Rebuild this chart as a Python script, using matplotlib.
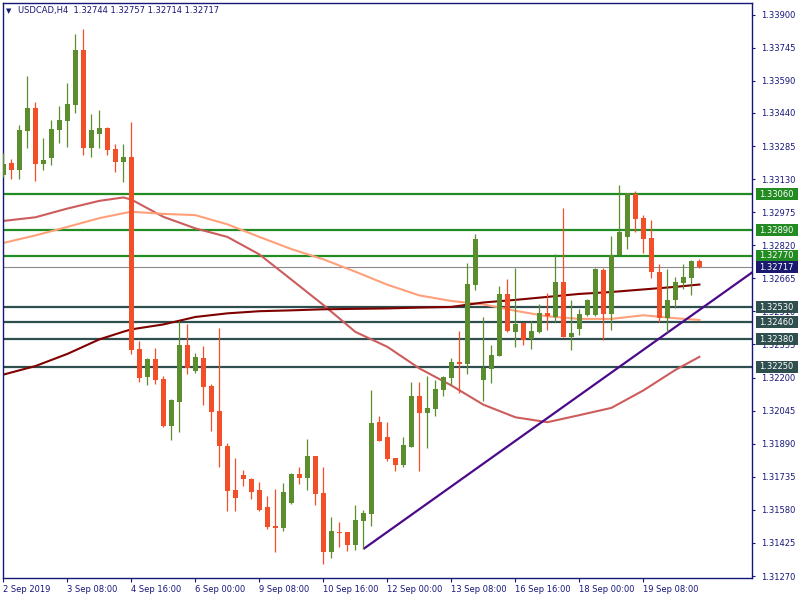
import matplotlib
matplotlib.use('Agg')
import matplotlib.pyplot as plt
import matplotlib.transforms as mtransforms
from matplotlib.patches import Rectangle

# ---------------- data (USDCAD H4) ----------------
opens = [1.33150, 1.33206, 1.33173, 1.33356, 1.33464, 1.33201, 1.33230, 1.33361, 1.33403, 1.33478,
         1.33736, 1.33276, 1.33342, 1.33370, 1.33272, 1.33211, 1.33234, 1.32334, 1.32203, 1.32287,
         1.32194, 1.31973, 1.32086, 1.32353, 1.32231, 1.32292, 1.32161, 1.32044, 1.31879, 1.31673,
         1.31744, 1.31725, 1.31673, 1.31594, 1.31504, 1.31495, 1.31612, 1.31748, 1.31729, 1.31833,
         1.31659, 1.31383, 1.31476, 1.31476, 1.31415, 1.31528, 1.31561, 1.31992, 1.31922, 1.31823,
         1.31790, 1.31875, 1.32114, 1.32034, 1.32053, 1.32142, 1.32198, 1.32273, 1.32264, 1.32636,
         1.32189, 1.32240, 1.32301, 1.32592, 1.32414, 1.32456, 1.32381, 1.32414, 1.32503, 1.32484,
         1.32648, 1.32390, 1.32428, 1.32494, 1.32494, 1.32705, 1.32498, 1.32775, 1.32859, 1.33061,
         1.32948, 1.32855, 1.32695, 1.32480, 1.32564, 1.32644, 1.32667, 1.32744]
highs = [1.33253, 1.33225, 1.33384, 1.33614, 1.33492, 1.33323, 1.33408, 1.33473, 1.33581, 1.33811,
         1.33834, 1.33436, 1.33455, 1.33375, 1.33295, 1.33295, 1.33398, 1.32372, 1.32292, 1.32339,
         1.32208, 1.32100, 1.32465, 1.32451, 1.32315, 1.32348, 1.32170, 1.32433, 1.31894, 1.31823,
         1.31767, 1.31729, 1.31711, 1.31645, 1.31678, 1.31706, 1.31753, 1.31781, 1.31912, 1.31833,
         1.31781, 1.31547, 1.31523, 1.31476, 1.31603, 1.31579, 1.32142, 1.32020, 1.31992, 1.31823,
         1.31922, 1.32180, 1.32180, 1.32208, 1.32189, 1.32208, 1.32292, 1.32419, 1.32737, 1.32873,
         1.32484, 1.32353, 1.32630, 1.32662, 1.32714, 1.32456, 1.32465, 1.32545, 1.32597, 1.32780,
         1.32995, 1.32564, 1.32522, 1.32566, 1.32714, 1.32714, 1.32864, 1.33103, 1.33066, 1.33075,
         1.32962, 1.32939, 1.32733, 1.32709, 1.32672, 1.32733, 1.32751, 1.32757]
lows = [1.33141, 1.33131, 1.33131, 1.33276, 1.33122, 1.33173, 1.33197, 1.33300, 1.33281, 1.33441,
        1.33244, 1.33234, 1.33276, 1.33244, 1.33164, 1.33117, 1.32311, 1.32180, 1.32165, 1.32170,
        1.31969, 1.31908, 1.31945, 1.32217, 1.32222, 1.32072, 1.31950, 1.31781, 1.31575, 1.31575,
        1.31692, 1.31631, 1.31575, 1.31490, 1.31383, 1.31481, 1.31608, 1.31701, 1.31673, 1.31603,
        1.31326, 1.31354, 1.31406, 1.31387, 1.31392, 1.31397, 1.31504, 1.31903, 1.31809, 1.31762,
        1.31781, 1.31875, 1.31762, 1.31870, 1.32020, 1.32114, 1.32165, 1.32128, 1.32217, 1.32611,
        1.32090, 1.32175, 1.32301, 1.32414, 1.32344, 1.32353, 1.32334, 1.32409, 1.32423, 1.32461,
        1.32390, 1.32330, 1.32400, 1.32490, 1.32490, 1.32376, 1.32423, 1.32775, 1.32803, 1.32883,
        1.32784, 1.32667, 1.32461, 1.32414, 1.32526, 1.32616, 1.32587, 1.32714]
closes = [1.33201, 1.33173, 1.33361, 1.33464, 1.33201, 1.33220, 1.33366, 1.33408, 1.33483, 1.33736,
          1.33276, 1.33361, 1.33370, 1.33267, 1.33211, 1.33234, 1.32330, 1.32198, 1.32287, 1.32189,
          1.31973, 1.32095, 1.32353, 1.32245, 1.32297, 1.32156, 1.32039, 1.31879, 1.31669, 1.31636,
          1.31725, 1.31664, 1.31579, 1.31500, 1.31495, 1.31664, 1.31748, 1.31729, 1.31833, 1.31654,
          1.31383, 1.31481, 1.31472, 1.31415, 1.31533, 1.31565, 1.31987, 1.31903, 1.31819, 1.31790,
          1.31884, 1.32114, 1.32034, 1.32058, 1.32147, 1.32203, 1.32273, 1.32264, 1.32639, 1.32850,
          1.32245, 1.32306, 1.32592, 1.32419, 1.32451, 1.32376, 1.32419, 1.32503, 1.32489, 1.32648,
          1.32390, 1.32409, 1.32498, 1.32564, 1.32709, 1.32498, 1.32775, 1.32883, 1.33066, 1.32944,
          1.32850, 1.32695, 1.32480, 1.32564, 1.32648, 1.32672, 1.32744, 1.32717]

# moving averages at these bar indices
ma_idx = [0, 4, 8, 12, 15, 16, 20, 24, 28, 32, 36, 40, 44, 48, 52, 56, 60, 64, 68, 72, 76, 80, 84, 87]
ma_indianred = [1.32934, 1.32951, 1.32992, 1.33028, 1.33044, 1.33034, 1.32953, 1.32899, 1.32859, 1.32777,
                1.32659, 1.32540, 1.32414, 1.32344, 1.32243, 1.32163, 1.32073, 1.32014, 1.31991, 1.32024,
                1.32058, 1.32140, 1.32236, 1.32297]
ma_salmon = [1.32831, 1.32866, 1.32906, 1.32947, 1.32970, 1.32977, 1.32967, 1.32961, 1.32918, 1.32859,
             1.32802, 1.32754, 1.32696, 1.32635, 1.32585, 1.32559, 1.32543, 1.32513, 1.32487, 1.32475,
             1.32475, 1.32492, 1.32478, 1.32470]
ma_maroon = [1.32214, 1.32254, 1.32311, 1.32379, 1.32415, 1.32426, 1.32449, 1.32484, 1.32501, 1.32511,
             1.32515, 1.32520, 1.32522, 1.32524, 1.32528, 1.32531, 1.32552, 1.32564, 1.32578, 1.32592,
             1.32601, 1.32613, 1.32625, 1.32636]

# trend line anchors (bar index, price)
trend_idx = [45, 87]
trend_price = [1.31397, 1.32517]

resist_levels = [1.33060, 1.32890, 1.32770]
support_levels = [1.32530, 1.32460, 1.32380, 1.32250]
current_price = 1.32717

ytick_vals = [1.33900, 1.33745, 1.33590, 1.33440, 1.33285, 1.33130, 1.32975, 1.32820, 1.32665,
              1.32510, 1.32355, 1.32200, 1.32045, 1.31890, 1.31735, 1.31580, 1.31425, 1.31270]
xtick_idx = [0, 8, 16, 24, 32, 40, 48, 56, 64, 72, 80]
xtick_labels = ['2 Sep 2019', '3 Sep 08:00', '4 Sep 16:00', '6 Sep 00:00', '9 Sep 08:00',
                '10 Sep 16:00', '12 Sep 00:00', '13 Sep 08:00', '16 Sep 16:00', '18 Sep 00:00',
                '19 Sep 08:00']
title_text = 'USDCAD,H4  1.32744 1.32757 1.32714 1.32717'

# ---------------- styles ----------------
NAVY = '#17177a'
UP = '#5b8d2e'
DOWN = '#f24e27'
GREEN_LVL = '#228b22'
SLATE_LVL = '#2f4f4f'
FS = 6

plt.rcParams['font.family'] = ['DejaVu Sans']

fig = plt.figure(figsize=(8, 6), dpi=100)
fig.patch.set_facecolor('white')
ax = fig.add_axes([3 / 800, 22 / 600, 749 / 800, 575 / 600])
ax.set_facecolor('white')

ylo, yhi = 1.31261, 1.33955
ax.set_ylim(ylo, yhi)
ax.set_xlim(-0.05, -0.05 + 749 / 8)

# horizontal levels
for lv in resist_levels:
    ax.axhline(lv, color=GREEN_LVL, lw=1.6, zorder=1)
for lv in support_levels:
    ax.axhline(lv, color=SLATE_LVL, lw=1.6, zorder=1)
ax.axhline(current_price, color='#8a8a8a', lw=0.8, zorder=1)

# moving averages
ax.plot(ma_idx, ma_indianred, color='#cd5c5c', lw=1.5, zorder=2)
ax.plot(ma_idx, ma_salmon, color='#ffa07a', lw=1.5, zorder=2)
ax.plot(ma_idx, ma_maroon, color='#800000', lw=1.5, zorder=2)

# trend line (ray extended to the right edge)
slope = (trend_price[1] - trend_price[0]) / (trend_idx[1] - trend_idx[0])
x_end = 100
ax.plot([trend_idx[0], x_end], [trend_price[0], trend_price[0] + slope * (x_end - trend_idx[0])],
        color='#4b0a8a', lw=1.6, zorder=2.5, solid_capstyle='butt')

# candles
min_h = (yhi - ylo) / 575 * 1.0
for i, (o, h, l, c) in enumerate(zip(opens, highs, lows, closes)):
    col = UP if c >= o else DOWN
    ax.vlines(i, l, h, color=col, lw=0.9, zorder=3)
    ax.bar(i, max(abs(c - o), min_h), bottom=min(o, c), width=0.62, color=col,
           edgecolor='none', zorder=4)

# axes styling
for s in ax.spines.values():
    s.set_color(NAVY)
    s.set_linewidth(1.0)
ax.yaxis.tick_right()
ax.set_yticks(ytick_vals)
ax.set_yticklabels([f'{v:.5f}' for v in ytick_vals])
ax.tick_params(axis='y', direction='out', length=2.5, width=0.8, color=NAVY,
               labelsize=FS, labelcolor=NAVY, pad=4)
ax.set_xticks(xtick_idx)
ax.set_xticklabels(xtick_labels, ha='left')
ax.tick_params(axis='x', direction='out', length=3, width=0.8, color=NAVY,
               labelsize=FS, labelcolor=NAVY, pad=2)
for lbl in ax.get_xticklabels():
    lbl.set_x(lbl.get_position()[0])

# right-side price boxes
blend = mtransforms.blended_transform_factory(ax.transAxes, ax.transData)
box_h = (yhi - ylo) / 575 * 12
def price_box(price, color):
    ax.add_patch(Rectangle((1.0053, price - box_h / 2), 0.0555, box_h, transform=blend,
                           facecolor=color, edgecolor='none', clip_on=False, zorder=10))
    ax.text(1.0093, price, f'{price:.5f}', transform=blend, ha='left', va='center',
            color='white', fontsize=FS, zorder=11, clip_on=False)

for lv in resist_levels:
    price_box(lv, GREEN_LVL)
for lv in support_levels:
    price_box(lv, SLATE_LVL)
price_box(current_price, '#191970')

# header
fig.text(6 / 800, 1 - 11 / 600, '\u25bc', fontsize=5, color=NAVY, va='center', ha='left')
fig.text(18 / 800, 1 - 11 / 600, title_text, fontsize=FS, color=NAVY, va='center', ha='left')

fig.savefig('out.png', dpi=100, facecolor='white')
